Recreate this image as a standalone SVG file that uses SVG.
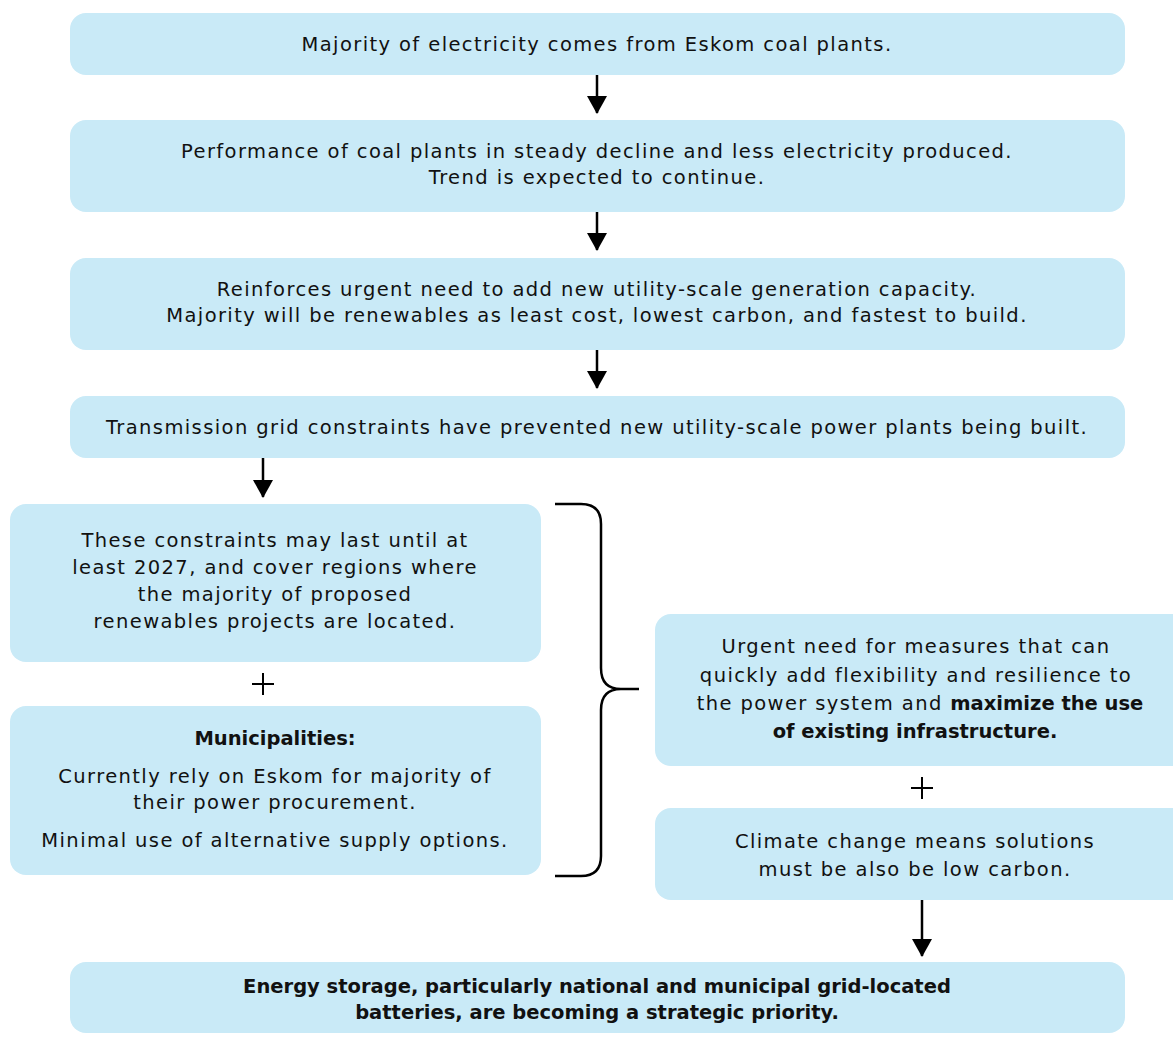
<svg xmlns="http://www.w3.org/2000/svg" width="1173" height="1046" viewBox="0 0 1173 1046">
<defs>
<style>
.box{fill:#C9EAF7;}
.t{font-family:"DejaVu Sans","Liberation Sans",sans-serif;font-size:19.5px;letter-spacing:1.4px;fill:#111;text-anchor:middle;}
.b{font-weight:bold;letter-spacing:0px;}
.conn{stroke:#000;stroke-width:2.5;fill:none;}
.plus{stroke:#000;stroke-width:2;fill:none;}
.brace{stroke:#000;stroke-width:2.5;fill:none;}
</style>
<marker id="ah" markerUnits="userSpaceOnUse" markerWidth="18" markerHeight="20" refX="17" refY="10" orient="auto" viewBox="0 0 18 20">
<path d="M0,0 L18,10 L0,20 Z" fill="#000"/>
</marker>
</defs>
<g id="n1"><rect class="box" x="70" y="13" width="1055" height="62" rx="16"/>
<text class="t" x="597" y="51">Majority of electricity comes from Eskom coal plants.</text></g>
<g id="n2"><rect class="box" x="70" y="120" width="1055" height="92" rx="16"/>
<text class="t" x="597" y="158">Performance of coal plants in steady decline and less electricity produced.</text>
<text class="t" x="597" y="184">Trend is expected to continue.</text></g>
<g id="n3"><rect class="box" x="70" y="258" width="1055" height="92" rx="16"/>
<text class="t" x="597" y="296">Reinforces urgent need to add new utility-scale generation capacity.</text>
<text class="t" x="597" y="322">Majority will be renewables as least cost, lowest carbon, and fastest to build.</text></g>
<g id="n4"><rect class="box" x="70" y="396" width="1055" height="62" rx="16"/>
<text class="t" x="597" y="434">Transmission grid constraints have prevented new utility-scale power plants being built.</text></g>
<g id="n5"><rect class="box" x="10" y="504" width="531" height="158" rx="16"/>
<text class="t" x="275" y="547">These constraints may last until at</text>
<text class="t" x="275" y="574">least 2027, and cover regions where</text>
<text class="t" x="275" y="601">the majority of proposed</text>
<text class="t" x="275" y="628">renewables projects are located.</text></g>
<g id="n6"><rect class="box" x="10" y="706" width="531" height="169" rx="16"/>
<text class="t b" x="275" y="745">Municipalities:</text>
<text class="t" x="275" y="783">Currently rely on Eskom for majority of</text>
<text class="t" x="275" y="809">their power procurement.</text>
<text class="t" x="275" y="847">Minimal use of alternative supply options.</text></g>
<g id="n7"><rect class="box" x="655" y="614" width="540" height="152" rx="16"/>
<text class="t" x="916" y="653">Urgent need for measures that can</text>
<text class="t" x="916" y="682">quickly add flexibility and resilience to</text>
<text class="t" x="920" y="710">the power system and <tspan class="b">maximize the use</tspan></text>
<text class="t b" x="915" y="738">of existing infrastructure.</text></g>
<g id="n8"><rect class="box" x="655" y="808" width="540" height="92" rx="16"/>
<text class="t" x="915" y="848">Climate change means solutions</text>
<text class="t" x="915" y="876">must be also be low carbon.</text></g>
<g id="n9"><rect class="box" x="70" y="962" width="1055" height="71" rx="16"/>
<text class="t b" x="597" y="993">Energy storage, particularly national and municipal grid-located</text>
<text class="t b" x="597" y="1019">batteries, are becoming a strategic priority.</text></g>
<g id="connectors">
<line class="conn" x1="597" y1="75" x2="597" y2="113" marker-end="url(#ah)"/>
<line class="conn" x1="597" y1="212" x2="597" y2="250" marker-end="url(#ah)"/>
<line class="conn" x1="597" y1="350" x2="597" y2="388" marker-end="url(#ah)"/>
<line class="conn" x1="263" y1="458" x2="263" y2="497" marker-end="url(#ah)"/>
<line class="conn" x1="922" y1="900" x2="922" y2="956" marker-end="url(#ah)"/>
<path class="plus" d="M252,684 H274 M263,673 V695"/>
<path class="plus" d="M911,788 H933 M922,777 V799"/>
<path class="brace" d="M555,504 H581 Q601,504 601,524 V668 Q601,689 621,689 H639 M621,689 Q601,689 601,710 V856 Q601,876 581,876 H555"/>
</g>
</svg>
